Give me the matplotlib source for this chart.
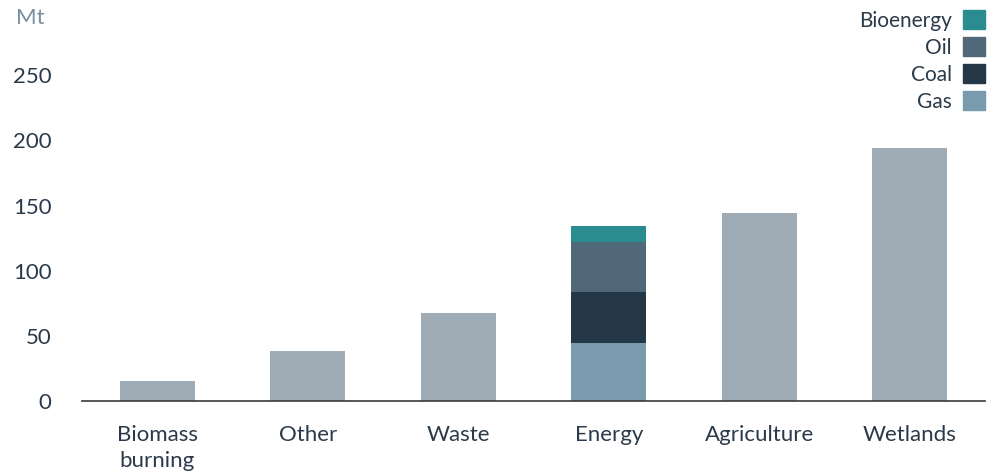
import matplotlib
matplotlib.use("Agg")
import matplotlib.pyplot as plt
from matplotlib.patches import Patch

plt.rcParams["font.family"] = ["Lato", "DejaVu Sans"]

categories = ["Biomass\nburning", "Other", "Waste", "Energy", "Agriculture", "Wetlands"]
totals = [15.5, 38.5, 67.5, 0, 144.5, 194]

# Energy is split by fuel
energy_parts = ["Gas", "Coal", "Oil", "Bioenergy"]
energy_values = [44.5, 39, 38.5, 12]
energy_colors = ["#7a9aae", "#243746", "#516879", "#2a8c8f"]

grey = "#a0acb5"
text_col = "#2b3a4a"

fig = plt.figure(figsize=(9.92, 4.71), dpi=100)
ax = fig.add_axes([82 / 992, 70 / 471, 903 / 992, 391 / 471])

x = list(range(len(categories)))
ax.bar(x, totals, width=0.5, color=grey)

bottom = 0
e = categories.index("Energy")
for val, col in zip(energy_values, energy_colors):
    ax.bar(e, val, bottom=bottom, width=0.5, color=col)
    bottom += val

ax.set_xlim(-0.5, 5.5)
ax.set_ylim(0, 300)
ax.set_yticks([0, 50, 100, 150, 200, 250])
ax.set_xticks(x)
ax.set_xticklabels(categories, fontsize=16, color=text_col, va="top", linespacing=1.4)
ax.tick_params(axis="y", length=0, labelsize=16, labelcolor=text_col, pad=22)
ax.tick_params(axis="x", length=0, pad=17)

for s in ["top", "right", "left"]:
    ax.spines[s].set_visible(False)
ax.spines["bottom"].set_color("#3a3a3a")
ax.spines["bottom"].set_linewidth(1.2)

fig.text(16 / 992, 1 - 18 / 471, "Mt", fontsize=16, color="#7a8fa0", va="center", ha="left")

handles = [Patch(color=c, label=l) for l, c in zip(energy_parts, energy_colors)][::-1]
leg = ax.legend(handles=handles, loc="upper right", bbox_to_anchor=(1.0, 1.0),
                frameon=False, markerfirst=False, fontsize=15, borderpad=0,
                handlelength=1.05, handleheight=1.05, handletextpad=0.55,
                labelspacing=0.3, borderaxespad=0)
for t in leg.get_texts():
    t.set_color(text_col)

fig.savefig("out.png", dpi=100)
